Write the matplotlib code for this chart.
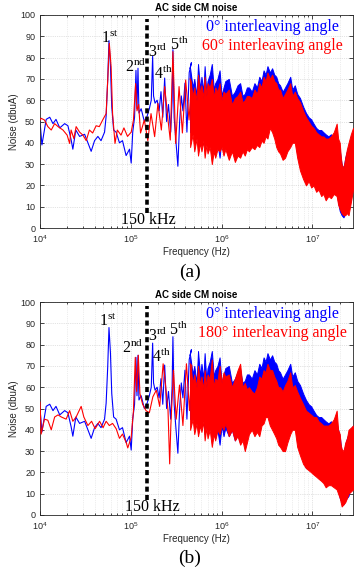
import matplotlib
matplotlib.use("Agg")
import matplotlib.pyplot as plt
from matplotlib.ticker import LogLocator, MultipleLocator, NullFormatter

plt.rcParams["font.family"] = ["Liberation Sans", "DejaVu Sans"]
plt.rcParams["mathtext.fontset"] = "custom"
plt.rcParams["mathtext.rm"] = "Liberation Serif"

# ---- data (frequency in kHz, noise in dBuA) ----
# 0 deg interleaving (same measurement in both panels), sparse low-frequency part
blue_f = [10, 10.5, 11.7, 12.8, 13.9, 15, 16.5, 18.7, 20.3, 22,
          23, 24.8, 27.3, 31, 33.7, 36.6, 39.9, 43.4, 47, 51.4,
          53.5, 55.7, 57.5, 59.7, 61.7, 64.7, 68.9, 75, 81, 88.8,
          96.8, 101, 105, 110, 114, 117, 120, 123, 130, 141,
          150, 160, 168, 174, 178, 185, 195, 205, 215, 225,
          236, 248, 260, 275, 285, 291, 300, 315, 330, 345,
          360, 375, 395, 415, 440, 465]
blue_v = [50, 39, 51, 52, 49, 51, 47, 49, 48, 41.5,
          37, 46, 43, 44, 40, 36, 41, 43, 41, 45,
          52.5, 69.6, 88, 76, 57, 46, 45, 40, 41, 34,
          37, 30.5, 45, 52, 74, 56, 75, 54, 56, 50,
          52, 56, 60, 80.7, 62, 58.6, 60, 55, 64, 52,
          70.4, 50, 58, 45, 60, 83.7, 52, 40, 29, 50,
          62, 55, 68, 45, 73, 77.6]

# 60 deg interleaving, sparse part
red_a_f = [10, 10.3, 11.2, 12.2, 13.3, 14.5, 15.8, 17.9, 19.9, 21.2,
           22, 23.6, 25, 27.3, 29.7, 32.3, 35, 38, 41.5, 45,
           49, 53.5, 55.7, 58, 60.7, 63, 67, 71, 78, 84,
           92, 101, 107, 113, 117, 122, 128, 141, 154, 167,
           183, 199, 217, 236, 257, 272, 291, 312, 340, 370,
           402, 438, 465]
red_a_v = [50.7, 51.5, 50.7, 47.6, 46, 49, 47.6, 46, 43.6, 39.7,
           46, 42, 47.6, 45, 43.6, 41, 46, 44.6, 48, 47.6,
           50.7, 53.7, 69.4, 86.7, 75.6, 53.7, 39.7, 46, 43.6, 47,
           43, 45, 50.7, 67.8, 55, 58, 44.6, 50.7, 41, 53.7,
           42.9, 58.5, 46, 66.4, 50.7, 41.3, 82.8, 39.7, 66.4, 44.6,
           69.5, 50.7, 68]

# 180 deg interleaving, sparse part
red_b_f = [10, 10.3, 11.2, 12.2, 13.3, 14.5, 15.8, 17.2, 19.4, 21.2,
           23, 25, 28.4, 30.4, 33.7, 37, 40.5, 45.3, 49.5, 53.5,
           58, 63, 69, 75, 81, 89, 92.6, 101, 107, 112,
           116, 121, 126, 135, 147, 160, 175, 191, 208, 227,
           236, 257, 268, 276, 295, 316, 344, 375, 410, 443,
           470]
red_b_v = [53, 38, 45, 44.5, 40, 46, 47, 46, 45, 49,
           44, 46, 51, 46, 42, 44, 40.5, 44, 41, 44,
           42, 43, 40.5, 36, 38, 34, 31.5, 36.5, 49, 74,
           58, 75, 57, 52, 49, 48, 55.5, 58.6, 51, 71,
           65, 49, 24, 42, 68, 45, 61, 42, 71, 49,
           70]

# dense high-frequency part: band envelopes (frequency in MHz)
env_f = [0.45, 0.48, 0.5, 0.53, 0.55, 0.58, 0.6, 0.63, 0.65, 0.68,
         0.7, 0.74, 0.78, 0.82, 0.85, 0.9, 0.95, 1.0, 1.05, 1.1,
         1.2, 1.3, 1.4, 1.5, 1.6, 1.7, 1.8, 1.9, 2.0, 2.15,
         2.3, 2.45, 2.6, 2.75, 2.9, 3.05, 3.2, 3.4, 3.6, 3.8,
         4.0, 4.2, 4.4, 4.7, 5.0, 5.3, 5.7, 6.0, 6.4, 6.8,
         7.3, 7.9, 8.5, 9.1, 9.7, 10.3, 11, 11.7, 12.5, 13.2,
         14, 15, 16, 17.2, 18.5, 19.2, 20, 20.5, 21, 22,
         23, 24, 25, 26.5, 28]
blue_up = [75, 66, 70, 62, 77, 65, 71, 64, 76, 63,
           69, 72, 77, 65, 68, 70, 74, 62, 66, 69,
           70, 62, 64, 67, 68, 62, 63, 66, 66, 64,
           68, 66, 71, 69, 74, 72, 76, 73, 75, 72,
           71, 68, 67, 64, 66, 68, 71, 65, 67, 63,
           61, 57, 54, 52, 51, 49, 47, 46, 46, 45,
           44, 43, 44, 42, 43, 40, 37, 33, 30, 28,
           33, 36, 38, 40, 42]
blue_lo = [45, 50, 42, 48, 40, 46, 43, 47, 38, 44,
           40, 45, 38, 42, 36, 40, 33, 42, 37, 41,
           37, 40, 35, 38, 34, 37, 36, 39, 40, 43,
           41, 44, 42, 46, 45, 48, 47, 52, 50, 45,
           42, 40, 38, 35, 35, 38, 40, 43, 43, 35,
           30, 26, 22, 24, 21, 22, 19, 20, 17, 18,
           15, 16, 16, 18, 17, 12, 8, 7, 6, 5,
           7, 8, 9, 14, 20]
red_a_up = [70, 62, 66, 60, 72, 63, 67, 61, 71, 62,
            68, 66, 70, 61, 66, 64, 68, 60, 64, 63,
            65, 58, 61, 62, 64, 59, 60, 62, 62, 61,
            65, 63, 68, 66, 71, 69, 73, 70, 72, 69,
            68, 65, 65, 61, 63, 65, 68, 62, 64, 61,
            59, 55, 52, 50, 48, 47, 45, 44, 43, 43,
            42, 42, 43, 45, 49, 42, 40, 34, 30, 28,
            33, 37, 40, 44, 47]
red_a_lo = [38, 44, 36, 42, 34, 40, 36, 41, 33, 39,
            35, 38, 30, 36, 33, 37, 36, 38, 34, 37,
            32, 36, 31, 34, 33, 36, 34, 37, 36, 38,
            37, 39, 38, 41, 40, 43, 42, 47, 45, 42,
            38, 36, 35, 32, 33, 36, 38, 40, 40, 33,
            27, 23, 20, 22, 19, 20, 17, 18, 15, 16,
            13, 15, 14, 16, 15, 11, 9, 8, 7, 6,
            6, 7, 6, 12, 18]
red_b_up = [71, 62, 66, 60, 70, 61, 65, 59, 68, 60,
            66, 64, 73, 60, 64, 63, 70, 62, 67, 65,
            66, 60, 64, 68, 71, 60, 62, 59, 60, 58,
            57, 60, 65, 64, 68, 67, 71, 68, 68, 65,
            63, 60, 60, 58, 61, 63, 67, 60, 61, 58,
            55, 52, 49, 48, 47, 46, 46, 44, 43, 42,
            42, 42, 43, 45, 49, 40, 38, 33, 31, 30,
            34, 36, 40, 41, 42]
red_b_lo = [40, 45, 38, 43, 37, 42, 39, 44, 35, 41,
            36, 40, 32, 38, 35, 40, 38, 42, 40, 43,
            37, 40, 35, 37, 33, 35, 30, 34, 38, 40,
            37, 39, 37, 42, 43, 46, 46, 42, 40, 38,
            36, 33, 32, 30, 30, 34, 38, 40, 40, 32,
            28, 24, 22, 21, 20, 19, 18, 17, 16, 15,
            13, 14, 14, 13, 12, 10, 8, 6, 4, 5,
            6, 8, 10, 11, 12]

harmonics = ["1", "2", "3", "4", "5"]
suffixes = ["st", "nd", "rd", "th", "th"]
label_f_a = [59e3, 113e3, 200e3, 228e3, 341e3]
label_v_a = [87, 73.4, 80.4, 70, 83.6]
label_f_b = [56e3, 104e3, 200e3, 219e3, 337e3]
label_v_b = [88.9, 75.9, 81.7, 71.7, 84.5]

BLUE = "#0000ff"
RED = "#ff0000"
SERIF = ["Liberation Serif", "DejaVu Serif"]
GREY = "#262626"


def draw_panel(ax, red_f, red_v, red_up, red_lo, red_name, lab_f, lab_v, khz_x):
    hz = [f * 1e3 for f in blue_f]
    env_hz = [f * 1e6 for f in env_f]
    ax.plot(hz + [env_hz[0]], blue_v + [blue_up[0]], color=BLUE, lw=0.8, zorder=2)
    ax.fill_between(env_hz, blue_lo, blue_up, color=BLUE, lw=0.7, zorder=2)

    rhz = [f * 1e3 for f in red_f]
    ax.plot(rhz + [env_hz[0]], red_v + [red_up[0]], color=RED, lw=0.8, zorder=3)
    ax.fill_between(env_hz, red_lo, red_up, color=RED, lw=0.7, zorder=3)

    ax.plot([1.5e5, 1.5e5], [7, 98], color="black", lw=2.6,
            linestyle=(0, (1.4, 0.9)), zorder=4)

    for n, s, x, y in zip(harmonics, suffixes, lab_f, lab_v):
        ax.text(x, y, n + r"$^{\rm " + s + "}$", ha="center", va="baseline",
                fontsize=11.5, family=SERIF, zorder=5)
    ax.text(khz_x, 1.9, "150 kHz", ha="center", va="baseline",
            fontsize=11.5, family=SERIF, zorder=5)

    ax.text(0.742, 0.945, "0° interleaving angle", transform=ax.transAxes,
            ha="center", va="center", color=BLUE, fontsize=11.5, family=SERIF, zorder=5)
    ax.text(0.742, 0.853, red_name, transform=ax.transAxes,
            ha="center", va="center", color=RED, fontsize=11.5, family=SERIF, zorder=5)

    ax.set_xscale("log")
    ax.set_xlim(1e4, 2.8e7)
    ax.set_ylim(0, 100)
    ax.yaxis.set_major_locator(MultipleLocator(10))
    ax.xaxis.set_major_locator(LogLocator(base=10))
    ax.xaxis.set_minor_locator(LogLocator(base=10, subs=range(2, 10)))
    ax.xaxis.set_minor_formatter(NullFormatter())
    ax.grid(True, which="major", color="#c8c8c8", lw=0.5, linestyle=":")
    ax.grid(True, which="minor", axis="x", color="#dcdcdc", lw=0.5, linestyle=":")
    ax.set_axisbelow(True)
    ax.tick_params(which="both", direction="in", top=True, right=True,
                   labelsize=6.5, labelcolor=GREY, color=GREY, width=0.6)
    ax.tick_params(which="major", length=3)
    ax.tick_params(which="minor", length=1.6)
    for sp in ax.spines.values():
        sp.set_color(GREY)
        sp.set_linewidth(0.6)
    ax.set_title("AC side CM noise", fontsize=7, fontweight="bold", pad=3)
    ax.set_xlabel("Frequency (Hz)", fontsize=7, color=GREY, labelpad=2)
    ax.set_ylabel("Noise (dbuA)", fontsize=7, color=GREY, labelpad=1)


fig = plt.figure(figsize=(3.54, 5.73), dpi=100)
ax1 = fig.add_axes([40 / 354, 345 / 573, 313 / 354, 213 / 573])
ax2 = fig.add_axes([40 / 354, 58 / 573, 313 / 354, 213 / 573])

draw_panel(ax1, red_a_f, red_a_v, red_a_up, red_a_lo, "60° interleaving angle",
           label_f_a, label_v_a, 1.58e5)
draw_panel(ax2, red_b_f, red_b_v, red_b_up, red_b_lo, "180° interleaving angle",
           label_f_b, label_v_b, 1.74e5)

fig.text(190 / 354, 1 - 272 / 573, "(a)", ha="center", va="center",
         fontsize=14, family=SERIF)
fig.text(190 / 354, 1 - 558 / 573, "(b)", ha="center", va="center",
         fontsize=14, family=SERIF)

fig.savefig("out.png", dpi=100)
